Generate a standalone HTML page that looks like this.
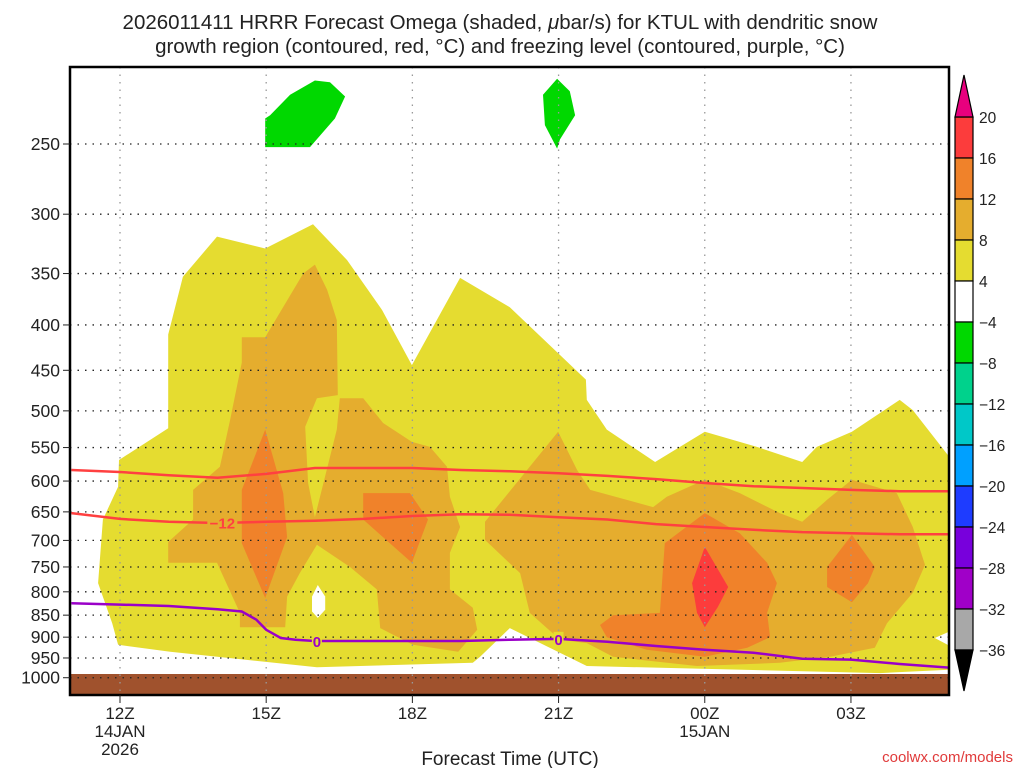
<!DOCTYPE html>
<html><head><meta charset="utf-8"><style>
body{margin:0;background:#fff;width:1024px;height:768px;overflow:hidden}
svg text{font-family:"Liberation Sans",sans-serif;fill:#222}
</style></head><body>
<svg id="chart" width="1024" height="768" xmlns="http://www.w3.org/2000/svg">
<text x="500" y="29" font-size="20.5" text-anchor="middle">2026011411 HRRR Forecast Omega (shaded, <tspan font-style="italic">μ</tspan>bar/s) for KTUL with dendritic snow</text>
<text x="500" y="53" font-size="20.5" text-anchor="middle">growth region (contoured, red, °C) and freezing level (contoured, purple, °C)</text>
<defs><clipPath id="pc"><rect x="70" y="67" width="879" height="628"/></clipPath></defs>
<g id="plot" clip-path="url(#pc)"></g>
<g id="axes"></g>
<g id="cbar"></g>
<text x="510" y="765" font-size="19" text-anchor="middle">Forecast Time (UTC)</text>
<text x="1013" y="762" font-size="15" text-anchor="end" style="fill:#e03a3a">coolwx.com/models</text>
</svg>
<script>
const pressureLevels=[250,300,350,400,450,500,550,600,650,700,750,800,850,900,950,1000];
const timeTickHours=[12,15,18,21,24,27];
const timeTickLabels=[["12Z","14JAN","2026"],["15Z"],["18Z"],["21Z"],["00Z","15JAN"],["03Z"]];
const yellowRegion=[[11.98,568],[12.99,523],[12.99,410],[13.29,353],[13.99,318],[14.98,328],[15.96,308],[16.66,338],[17.38,385],[17.99,444],[18.98,354],[20.0,382],[21.56,461],[21.58,486],[21.99,525],[22.98,571],[24.0,528],[25.07,549],[26.0,571],[26.3,549],[27.02,528],[28.0,486],[28.27,499],[29.1,571],[29.1,883],[28.72,902],[29.1,925],[29.1,979],[27.6,988],[21.58,970],[20.0,879],[19.39,947],[19.24,962],[16.04,973],[13.03,935],[11.96,918],[11.84,868],[11.55,782],[11.65,663],[11.96,609]];
const holeRegion=[[16.06,786],[16.21,810],[16.21,838],[16.06,856],[15.94,842],[15.94,810]];
const omega8Left=[[14.50,413],[14.98,413],[15.76,350],[16.0,342],[16.25,365],[16.45,395],[16.47,480],[16.04,484],[15.80,521],[15.86,603],[16.0,659],[16.45,525],[16.51,484],[16.99,484],[17.40,516],[17.99,542],[18.36,549],[18.71,578],[18.77,625],[18.98,676],[18.77,723],[18.77,795],[19.24,834],[19.33,883],[18.94,935],[18.01,918],[17.34,879],[17.27,795],[16.72,750],[16.04,708],[15.69,762],[15.43,810],[15.39,877],[14.46,877],[14.46,845],[13.99,742],[12.99,742],[12.99,703],[13.50,663],[13.50,614],[14.05,578],[14.26,512],[14.50,441]];
const omega8Right=[[19.49,667],[20.99,528],[21.38,583],[21.65,614],[22.94,642],[23.22,625],[24.0,598],[24.72,619],[25.54,652],[26.0,667],[26.51,630],[27.02,598],[27.94,619],[28.27,676],[28.52,746],[28.27,802],[27.74,868],[27.49,925],[26.57,947],[25.54,962],[23.84,970],[22.12,947],[21.58,914],[21.03,906],[20.41,845],[20.21,762],[19.49,699]];
const omega12A=[[14.98,525],[15.35,619],[15.43,694],[14.98,813],[14.50,705],[14.50,614]];
const omega12B=[[16.99,619],[17.95,619],[18.32,663],[17.99,742],[16.99,663]];
const omega12C=[[24.0,652],[24.72,687],[25.28,742],[25.48,782],[25.28,845],[25.34,900],[24.87,925],[24.0,947],[22.81,930],[21.99,900],[21.85,872],[22.12,850],[23.08,845],[23.18,705]];
const omega12D=[[27.02,690],[27.49,750],[27.35,782],[27.02,822],[26.51,790],[26.51,750]];
const omega16=[[24.0,712],[24.48,790],[24.27,832],[24.0,877],[23.84,845],[23.74,782]];
const green1=[[14.98,234],[14.98,252],[15.90,252],[16.41,234],[16.62,221],[16.31,213],[16.0,212],[15.49,220],[15.08,232]];
const green2=[[20.97,211],[21.23,218],[21.34,232],[21.03,247],[20.97,253],[20.72,238],[20.68,220]];
const redLineHours=[11,12,13,14,15,16,17,18,19,20,21,22,23,24,25,26,27,28,29.1];
const redUpperP=[583,586,591,595,589,580,580,580,583,585,588,592,597,603,608,611,614,616,616];
const redLowerP=[652,662,667,669,667,665,662,657,654,655,659,663,671,676,681,685,687,689,689];
const purpleHours=[11,12,13,14,14.5,14.8,15,15.3,15.6,16,17,18,19,20,21,22,23,24,25,26,27,28,29.1];
const purpleP=[824,827,830,837,842,860,883,902,906,909,909,909,909,906,904,911,921,930,937,952,954,965,975];
const cbarLabels=["20","16","12","8","4","−4","−8","−12","−16","−20","−24","−28","−32","−36"];
const cbarColors=["#fc3c3c","#f0822a","#e5ad2e","#e5dc30","#ffffff","#00d800","#00d28c","#00c8c8","#00a0ff","#1e3cff","#7800dc","#a000c8","#a8a8a8"];

const NS="http://www.w3.org/2000/svg";
function X(h){return 120+(h-12)*48.73;}
function Y(p){return 144+385*Math.log(p/250);}
function mk(tag,attrs,parent){const e=document.createElementNS(NS,tag);for(const k in attrs)e.setAttribute(k,attrs[k]);parent.appendChild(e);return e;}
const plot=document.getElementById('plot'),axes=document.getElementById('axes'),cbar=document.getElementById('cbar');
function poly(pts,fill,name){const e=mk('polygon',{points:pts.map(d=>X(d[0]).toFixed(1)+','+Y(d[1]).toFixed(1)).join(' '),fill:fill},plot);

}
poly(yellowRegion,'#e5dc30','omega-4-8-region');
poly(holeRegion,'#ffffff','omega-weak-hole');
poly(omega8Left,'#e5ad2e','omega-8-12-left');
poly(omega8Right,'#e5ad2e','omega-8-12-right');
poly(omega12A,'#f0822a','omega-12-16-a');
poly(omega12B,'#f0822a','omega-12-16-b');
poly(omega12C,'#f0822a','omega-12-16-c');
poly(omega12D,'#f0822a','omega-12-16-d');
poly(omega16,'#fc3c3c','omega-16-20');
poly(green1,'#00d800','omega-neg-green-1');
poly(green2,'#00d800','omega-neg-green-2');
const ground=mk('rect',{x:70,y:674,width:879,height:22,fill:'#a0522d'},plot);


pressureLevels.forEach(p=>{const l=mk('line',{x1:70,x2:949,y1:Y(p),y2:Y(p),stroke:'#222','stroke-width':1.3,'stroke-dasharray':'1.5 6'},plot);

});
timeTickHours.forEach(h=>{const l=mk('line',{x1:X(h),x2:X(h),y1:67,y2:695,stroke:'#999','stroke-width':1.3,'stroke-dasharray':'1.5 6'},plot);

});
function line(hs,ps,color,name){const e=mk('polyline',{points:hs.map((h,i)=>X(h).toFixed(1)+','+Y(ps[i]).toFixed(1)).join(' '),fill:'none',stroke:color,'stroke-width':2.5},plot);

}
line(redLineHours,redUpperP,'#ff4040','dgz-contour-upper');
line(redLineHours,redLowerP,'#ff4040','dgz-contour-lower');
line(purpleHours,purpleP,'#9a00c8','freezing-level-contour');
function clabel(h,p,txt,color,bgc,name){
const bg=mk('rect',{x:X(h)-(txt.length*5),y:Y(p)-7,width:txt.length*10,height:14,fill:bgc},plot);


const t=mk('text',{x:X(h),y:Y(p)+6,'font-size':15,'font-weight':'bold','text-anchor':'middle',style:'fill:'+color},plot);t.textContent=txt;

}
clabel(14.1,668,'−12','#ff4040','#e5ad2e','dgz-label-minus12');
clabel(16.04,909,'0','#9a00c8','#e5dc30','freezing-label-1');
clabel(21.0,904,'0','#9a00c8','#e5dc30','freezing-label-2');
const fr=mk('rect',{x:70,y:67,width:879,height:628,fill:'none',stroke:'#000','stroke-width':2.5},axes);


pressureLevels.forEach(p=>{const t=mk('text',{x:60,y:Y(p)+6,'font-size':17.5,'text-anchor':'end'},axes);t.textContent=p;


mk('line',{x1:63,x2:70,y1:Y(p),y2:Y(p),stroke:'#222','stroke-width':1},axes);});
timeTickHours.forEach((h,i)=>{mk('line',{x1:X(h),x2:X(h),y1:695,y2:703,stroke:'#222','stroke-width':1},axes);
timeTickLabels[i].forEach((s,j)=>{const t=mk('text',{x:X(h),y:719+j*18,'font-size':17,'text-anchor':'middle'},axes);t.textContent=s;

});});
const cx=955,cw=18,cbTop=117,step=41;
cbarColors.forEach((c,i)=>{const r=mk('rect',{x:cx,y:cbTop+i*step,width:cw,height:step,fill:c,stroke:'#000','stroke-width':1.2},cbar);

});
const ta=mk('polygon',{points:`${cx},${cbTop} ${cx+cw},${cbTop} ${cx+cw/2},75`,fill:'#e8007e',stroke:'#000','stroke-width':1.2},cbar);


const yb=cbTop+cbarColors.length*step;
const ba=mk('polygon',{points:`${cx},${yb} ${cx+cw},${yb} ${cx+cw/2},691`,fill:'#000',stroke:'#000','stroke-width':1.2},cbar);


cbarLabels.forEach((s,i)=>{const t=mk('text',{x:979,y:cbTop+i*step+6,'font-size':15.5},cbar);t.textContent=s;

});
</script>
</body></html>
